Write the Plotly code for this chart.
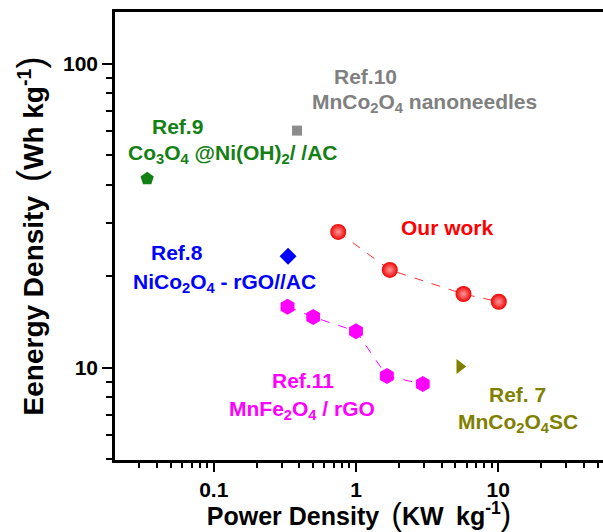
import numpy as np
import plotly.graph_objects as go

# ---- data (Power density kW/kg, Energy density Wh/kg) ----
our_x = [0.75, 1.73, 5.7, 10.1]
our_y = [28.0, 21.0, 17.5, 16.5]

ref11_x = [0.33, 0.50, 1.0, 1.65, 2.95]
ref11_y = [15.9, 14.7, 13.2, 9.4, 8.85]

ref7_x = [5.37]
ref7_y = [10.1]

ref10_x = [0.385]
ref10_y = [60.3]

ref9_x = [0.034]
ref9_y = [41.9]

ref8_x = [0.333]
ref8_y = [23.3]

x_ticks = [0.1, 1, 10]
x_ticklabels = ["0.1", "1", "10"]
y_ticks = [10, 100]
y_ticklabels = ["10", "100"]

FONT = "Liberation Sans, Arial, sans-serif"

fig = go.Figure()

fig.add_trace(go.Scatter(x=ref11_x, y=ref11_y, mode="lines+markers",
                         line=dict(color="#ff00ff", width=1, dash="dash"),
                         marker=dict(symbol="hexagon", size=16, color="#ff00ff"),
                         showlegend=False))
fig.add_trace(go.Scatter(x=our_x, y=our_y, mode="lines+markers",
                         line=dict(color="#ff3030", width=1, dash="dash"),
                         marker=dict(symbol="circle", size=16, color="#f00000",
                                     gradient=dict(type="radial", color="#ff9c9c"),
                                     line=dict(width=0)),
                         showlegend=False))
fig.add_trace(go.Scatter(x=ref7_x, y=ref7_y, mode="markers",
                         marker=dict(symbol="triangle-right", size=13, color="#808000"),
                         showlegend=False))
fig.add_trace(go.Scatter(x=ref10_x, y=ref10_y, mode="markers",
                         marker=dict(symbol="square", size=10, color="#8c8c8c"),
                         showlegend=False))
fig.add_trace(go.Scatter(x=ref9_x, y=ref9_y, mode="markers",
                         marker=dict(symbol="pentagon", size=14, color="#138013"),
                         showlegend=False))
fig.add_trace(go.Scatter(x=ref8_x, y=ref8_y, mode="markers",
                         marker=dict(symbol="diamond", size=13, color="#0000ff"),
                         showlegend=False))

def ann(text, lx, ly, color, size=21):
    fig.add_annotation(text=text, x=lx, y=ly, xref="x", yref="y", showarrow=False,
                       font=dict(family=FONT, size=size, color=color, weight="bold"),
                       xanchor="center", yanchor="middle")

ann("Ref.10", 0.070, 1.957, "#808080")
ann("MnCo<sub>2</sub>O<sub>4</sub> nanoneedles", 0.484, 1.872, "#808080")
ann("Ref.9", -1.256, 1.793, "#138013")
ann("Co<sub>3</sub>O<sub>4</sub> @Ni(OH)<sub>2</sub>/ /AC", -0.863, 1.703, "#138013")
ann("Ref.8", -1.256, 1.378, "#0000ff")
ann("NiCo<sub>2</sub>O<sub>4</sub> - rGO//AC", -0.926, 1.280, "#0000ff")
ann("Our work", 0.646, 1.461, "#ff0000")
ann("Ref.11", -0.372, 0.957, "#ff00ff")
ann("MnFe<sub>2</sub>O<sub>4</sub> / rGO", -0.379, 0.862, "#ff00ff")
ann("Ref. 7", 1.137, 0.911, "#808000")
ann("MnCo<sub>2</sub>O<sub>4</sub>SC", 1.137, 0.818, "#808000")

x_minor = [m * 10.0 ** e for e in range(-2, 2) for m in range(2, 10)]
y_minor = [m * 10.0 ** e for e in range(0, 3) for m in range(2, 10)]

xtitle = ('Power Density\u2002<span style="font-weight:normal;font-size:31px">(</span>'
          'KW\u2002kg<sup>-1</sup><span style="font-weight:normal;font-size:31px">)</span>')
ytitle = ('Eenergy Density\u2002<span style="font-weight:normal;font-size:36px">(</span>'
          'Wh kg<sup>-1</sup><span style="font-weight:normal;font-size:36px">)</span>')

fig.update_layout(
    width=603, height=532,
    margin=dict(l=115, r=0, t=12, b=72),
    paper_bgcolor="white", plot_bgcolor="white",
    font=dict(family=FONT, color="black"),
    xaxis=dict(type="log", range=[np.log10(0.0202), np.log10(54.6)],
               showgrid=False, zeroline=False,
               showline=True, linecolor="black", linewidth=2.5, mirror=True,
               ticks="outside", ticklen=9, tickwidth=2, tickcolor="black",
               tickvals=x_ticks, ticktext=x_ticklabels,
               tickfont=dict(family=FONT, size=21, weight="bold"),
               minor=dict(tickvals=x_minor, ticks="outside", ticklen=5,
                          tickwidth=2, tickcolor="black", showgrid=False),
               title=dict(text=xtitle,
                          font=dict(family=FONT, size=25, weight="bold"),
                          standoff=0)),
    yaxis=dict(type="log", range=[np.log10(4.98), np.log10(148)],
               showgrid=False, zeroline=False,
               showline=True, linecolor="black", linewidth=2.5, mirror=False,
               ticks="outside", ticklen=10, tickwidth=2, tickcolor="black",
               tickvals=y_ticks, ticktext=y_ticklabels,
               tickfont=dict(family=FONT, size=21, weight="bold"),
               minor=dict(tickvals=y_minor, ticks="outside", ticklen=6,
                          tickwidth=2, tickcolor="black", showgrid=False),
               title=dict(text=ytitle,
                          font=dict(family=FONT, size=28, weight="bold"),
                          standoff=12)),
)

fig.write_html("out.html")
